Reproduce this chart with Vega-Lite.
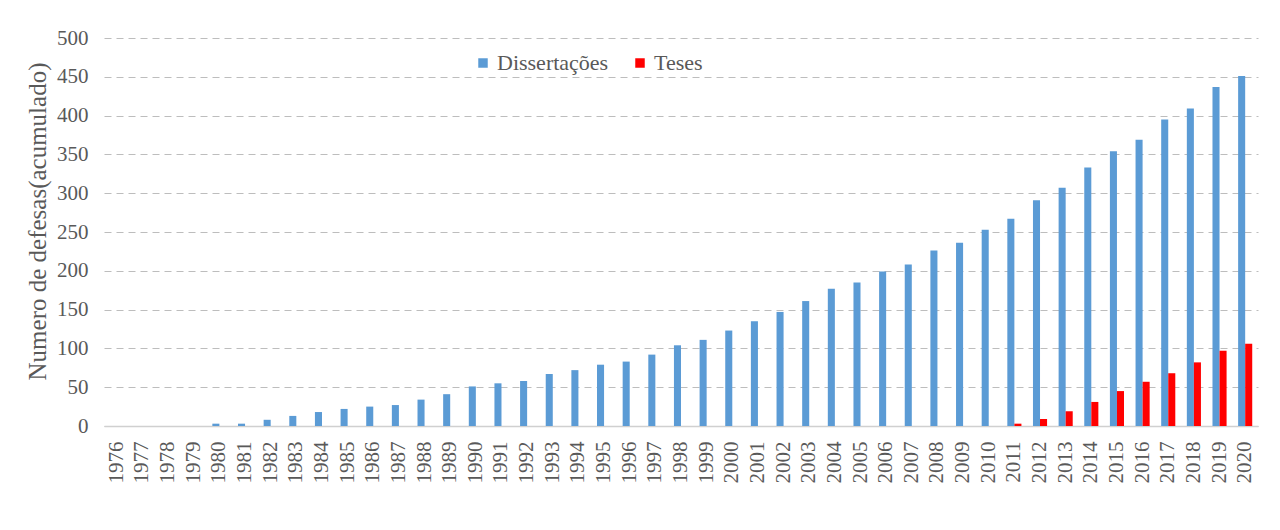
{
  "$schema": "https://vega.github.io/schema/vega-lite/v6.json",
  "width": 1154,
  "height": 388,
  "autosize": {"type": "none"},
  "padding": {"left": 104, "top": 38, "right": 22, "bottom": 104},
  "background": "white",
  "config": {
    "view": {"stroke": null},
    "font": "Liberation Serif"
  },
  "data": {
    "values": [
      {"ano": "1976", "serie": "Dissertações", "valor": 0},
      {"ano": "1977", "serie": "Dissertações", "valor": 0},
      {"ano": "1978", "serie": "Dissertações", "valor": 0},
      {"ano": "1979", "serie": "Dissertações", "valor": 0},
      {"ano": "1980", "serie": "Dissertações", "valor": 3},
      {"ano": "1981", "serie": "Dissertações", "valor": 3},
      {"ano": "1982", "serie": "Dissertações", "valor": 8},
      {"ano": "1983", "serie": "Dissertações", "valor": 13},
      {"ano": "1984", "serie": "Dissertações", "valor": 18},
      {"ano": "1985", "serie": "Dissertações", "valor": 22},
      {"ano": "1986", "serie": "Dissertações", "valor": 25},
      {"ano": "1987", "serie": "Dissertações", "valor": 27},
      {"ano": "1988", "serie": "Dissertações", "valor": 34},
      {"ano": "1989", "serie": "Dissertações", "valor": 41},
      {"ano": "1990", "serie": "Dissertações", "valor": 51},
      {"ano": "1991", "serie": "Dissertações", "valor": 55},
      {"ano": "1992", "serie": "Dissertações", "valor": 58},
      {"ano": "1993", "serie": "Dissertações", "valor": 67},
      {"ano": "1994", "serie": "Dissertações", "valor": 72},
      {"ano": "1995", "serie": "Dissertações", "valor": 79},
      {"ano": "1996", "serie": "Dissertações", "valor": 83},
      {"ano": "1997", "serie": "Dissertações", "valor": 92},
      {"ano": "1998", "serie": "Dissertações", "valor": 104},
      {"ano": "1999", "serie": "Dissertações", "valor": 111},
      {"ano": "2000", "serie": "Dissertações", "valor": 123},
      {"ano": "2001", "serie": "Dissertações", "valor": 135},
      {"ano": "2002", "serie": "Dissertações", "valor": 147},
      {"ano": "2003", "serie": "Dissertações", "valor": 161},
      {"ano": "2004", "serie": "Dissertações", "valor": 177},
      {"ano": "2005", "serie": "Dissertações", "valor": 185},
      {"ano": "2006", "serie": "Dissertações", "valor": 199},
      {"ano": "2007", "serie": "Dissertações", "valor": 208},
      {"ano": "2008", "serie": "Dissertações", "valor": 226},
      {"ano": "2009", "serie": "Dissertações", "valor": 236},
      {"ano": "2010", "serie": "Dissertações", "valor": 253},
      {"ano": "2011", "serie": "Dissertações", "valor": 267},
      {"ano": "2012", "serie": "Dissertações", "valor": 291},
      {"ano": "2013", "serie": "Dissertações", "valor": 307},
      {"ano": "2014", "serie": "Dissertações", "valor": 333},
      {"ano": "2015", "serie": "Dissertações", "valor": 354},
      {"ano": "2016", "serie": "Dissertações", "valor": 369},
      {"ano": "2017", "serie": "Dissertações", "valor": 395},
      {"ano": "2018", "serie": "Dissertações", "valor": 409},
      {"ano": "2019", "serie": "Dissertações", "valor": 437},
      {"ano": "2020", "serie": "Dissertações", "valor": 451},
      {"ano": "2011", "serie": "Teses", "valor": 3},
      {"ano": "2012", "serie": "Teses", "valor": 9},
      {"ano": "2013", "serie": "Teses", "valor": 19},
      {"ano": "2014", "serie": "Teses", "valor": 31},
      {"ano": "2015", "serie": "Teses", "valor": 45},
      {"ano": "2016", "serie": "Teses", "valor": 57},
      {"ano": "2017", "serie": "Teses", "valor": 68},
      {"ano": "2018", "serie": "Teses", "valor": 82},
      {"ano": "2019", "serie": "Teses", "valor": 97},
      {"ano": "2020", "serie": "Teses", "valor": 106}
    ]
  },
  "mark": {"type": "bar"},
  "encoding": {
    "x": {
      "field": "ano",
      "type": "ordinal",
      "scale": {"paddingInner": 0.45, "paddingOuter": 0.225},
      "axis": {
        "title": null,
        "labelAngle": -90,
        "labelFont": "Liberation Serif",
        "labelFontSize": 21,
        "labelColor": "#595959",
        "labelPadding": 15,
        "ticks": false,
        "domainColor": "#d0d0d0",
        "domainWidth": 1.5,
        "labelBaseline": "middle"
      }
    },
    "xOffset": {"field": "serie", "type": "nominal", "sort": ["Dissertações", "Teses"]},
    "y": {
      "field": "valor",
      "type": "quantitative",
      "scale": {"domain": [0, 500], "nice": false},
      "axis": {
        "title": "Numero de defesas(acumulado)",
        "titleFont": "Liberation Serif",
        "titleFontSize": 25,
        "titleFontWeight": "normal",
        "titleColor": "#595959",
        "titlePadding": 6,
        "titleY": 183,
        "values": [0, 50, 100, 150, 200, 250, 300, 350, 400, 450, 500],
        "labelFont": "Liberation Serif",
        "labelFontSize": 21,
        "labelColor": "#595959",
        "labelPadding": 16,
        "ticks": false,
        "domain": false,
        "grid": true,
        "gridColor": "#bdbdbd",
        "gridDash": [7, 5],
        "gridWidth": 1.2
      }
    },
    "color": {
      "field": "serie",
      "type": "nominal",
      "sort": ["Dissertações", "Teses"],
      "scale": {"domain": ["Dissertações", "Teses"], "range": ["#5B9BD5", "#FF0000"]},
      "legend": {
        "title": null,
        "orient": "none",
        "direction": "horizontal",
        "legendX": 368,
        "legendY": 14,
        "symbolType": "square",
        "symbolSize": 90,
        "symbolStrokeWidth": 0,
        "labelFont": "Liberation Serif",
        "labelFontSize": 22,
        "labelColor": "#595959",
        "labelOffset": 3,
        "columnPadding": 20
      }
    }
  }
}
